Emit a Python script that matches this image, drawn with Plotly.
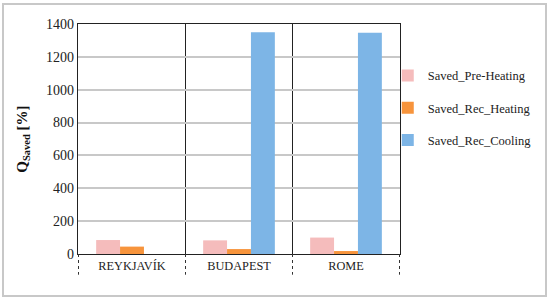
import plotly.graph_objects as go

categories = ["REYKJAVÍK", "BUDAPEST", "ROME"]
pre_heating = [85, 83, 100]
rec_heating = [45, 30, 18]
rec_cooling = [0, 1350, 1347]
series_names = ["Saved_Pre-Heating", "Saved_Rec_Heating", "Saved_Rec_Cooling"]
colors = ["#F5BCBC", "#F7943C", "#7DB5E6"]
y_ticks = [0, 200, 400, 600, 800, 1000, 1200, 1400]

serif = "Liberation Serif"

fig = go.Figure()
for name, vals, col in zip(series_names, [pre_heating, rec_heating, rec_cooling], colors):
    fig.add_trace(go.Bar(x=categories, y=vals, name=name, marker=dict(color=col, line=dict(width=0)),
                         legendgroup=name))

# category separators: dotted extensions below the axis
shapes = []
for i in range(len(categories) + 1):
    shapes.append(dict(type="line", xref="x", yref="paper", x0=i - 0.5, x1=i - 0.5,
                       y0=0, y1=-0.09, line=dict(color="#333333", width=1, dash="dot")))
# outer frame
shapes.append(dict(type="rect", xref="paper", yref="paper",
                   x0=-75 / 322, x1=1 + 146 / 322, y0=-42 / 230, y1=1 + 20 / 230,
                   line=dict(color="#C8C8C8", width=2)))

fig.update_layout(
    width=550, height=300,
    margin=dict(l=78, r=150, t=24, b=46, autoexpand=False),
    paper_bgcolor="white", plot_bgcolor="white",
    barmode="group", bargap=0.33, bargroupgap=0,
    font=dict(family=serif, size=12, color="#222222"),
    showlegend=True,
    legend=dict(x=0.962, y=0.635, xanchor="left", yanchor="middle",
                font=dict(family=serif, size=12.5, color="#222222"),
                tracegroupgap=13, itemwidth=30, bgcolor="rgba(0,0,0,0)"),
    shapes=shapes,
)
fig.update_xaxes(
    type="category", tickson="boundaries", showgrid=True, gridcolor="#222222", gridwidth=1.3,
    showline=True, linecolor="#222222", linewidth=1.3, mirror=True, automargin=False,
    ticks="", tickfont=dict(family=serif, size=12.3, color="#222222"),
)
fig.update_yaxes(
    range=[0, 1400], tickvals=y_ticks, showgrid=True, gridcolor="#C8C8C8", gridwidth=1.5,
    showline=True, linecolor="#222222", linewidth=1.3, mirror=True, zeroline=False, automargin=False,
    ticks="", tickfont=dict(family=serif, size=14, color="#222222"),
    title=dict(text="<b>Q<sub>Saved</sub> [%]</b>", font=dict(family=serif, size=15, color="#111111"),
               standoff=14),
)

fig.write_html("out.html", config={"displayModeBar": False},
               post_script="document.body.style.margin='0';")
